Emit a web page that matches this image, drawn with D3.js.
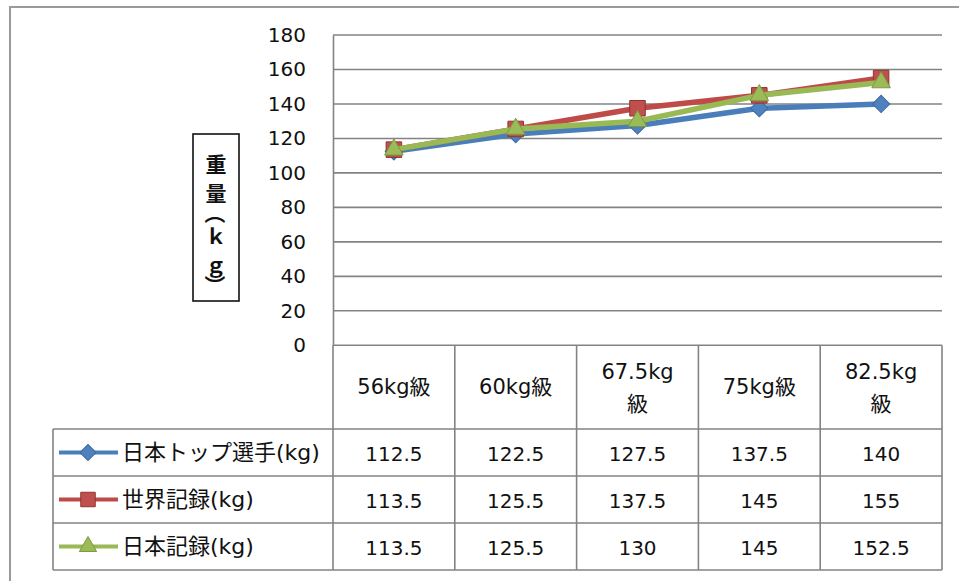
<!DOCTYPE html>
<html><head><meta charset="utf-8">
<script src="https://cdn.jsdelivr.net/npm/d3@7"></script>
<style>
  body { margin: 0; background: #fff; }
  svg { display: block; }
  .jp { font-family: "DejaVu Sans", "Noto Sans CJK JP", sans-serif; fill: #111; }
</style>
</head><body>
<svg id="chart" width="959" height="581"></svg>
<script>
// Weight classes (x categories)
const categories = ["56kg級", "60kg級", "67.5kg級", "75kg級", "82.5kg級"];
// Series names shown in the data table legend
const seriesNames = ["日本トップ選手(kg)", "世界記録(kg)", "日本記録(kg)"];
// Lifted weight per class, kg
const japanTop = [112.5, 122.5, 127.5, 137.5, 140];
const worldRecord = [113.5, 125.5, 137.5, 145, 155];
const japanRecord = [113.5, 125.5, 130, 145, 152.5];
// Value axis ticks
const yTicks = [0, 20, 40, 60, 80, 100, 120, 140, 160, 180];
const axisTitle = "重量（ｋｇ）";

const seriesValues = [japanTop, worldRecord, japanRecord];
const seriesStyle = [
  { line: "#4A7EBB", fill: "#4F81BD", stroke: "#3A6BA5", marker: "diamond" },
  { line: "#BE4B48", fill: "#C0504D", stroke: "#8E3532", marker: "square" },
  { line: "#98B954", fill: "#9BBB59", stroke: "#7C9B3E", marker: "triangle" }
];

const svg = d3.select("#chart");
const W = 959, H = 581;

// Layout
const plot = { left: 333, right: 942, top: 35, bottom: 345.3 };
const table = { legendLeft: 53, headerBottom: 429, rowH: 47 };
const gridColor = "#838383";

// Outer chart border (runs off the right and bottom edges)
svg.append("rect")
  .attr("x", 10).attr("y", 7).attr("width", W).attr("height", H)
  .attr("fill", "none").attr("stroke", "#9a9a9a").attr("stroke-width", 2);

const x = d3.scaleBand().domain(categories).range([plot.left, plot.right]);
const y = d3.scaleLinear().domain([0, 180]).range([plot.bottom, plot.top]);

// Horizontal gridlines
svg.append("g").selectAll("line").data(yTicks).join("line")
  .attr("x1", plot.left).attr("x2", plot.right)
  .attr("y1", d => y(d)).attr("y2", d => y(d))
  .attr("stroke", gridColor).attr("stroke-width", 1.6);

// Value axis via d3.axisLeft, restyled
const yAxis = svg.append("g")
  .attr("transform", `translate(${plot.left},0)`)
  .call(d3.axisLeft(y).tickValues(yTicks).tickSize(0).tickPadding(27));
yAxis.select(".domain").attr("stroke", gridColor).attr("stroke-width", 1.6);
yAxis.selectAll("text")
  .attr("font-family", "DejaVu Sans, sans-serif")
  .attr("font-size", 20).attr("fill", "#111");

// Axis title in a box, set vertically one character at a time;
// brackets are turned a quarter so they read as vertical brackets
svg.append("rect")
  .attr("x", 193).attr("y", 134).attr("width", 46).attr("height", 167)
  .attr("fill", "#fff").attr("stroke", "#111").attr("stroke-width", 1.6);
const titleChars = Array.from(axisTitle);
const isBracket = ch => ch === "（" || ch === "）";
const halfAdv = ch => isBracket(ch) ? 7 : 14.5;
let cy = 163;
const titleG = svg.append("g")
  .attr("font-family", "Noto Sans CJK JP, sans-serif")
  .attr("font-size", 21).attr("font-weight", "bold").attr("fill", "#111");
titleChars.forEach((ch, i) => {
  if (i > 0) cy += halfAdv(titleChars[i - 1]) + halfAdv(ch);
  const t = titleG.append("text")
    .attr("x", 216).attr("y", cy)
    .attr("text-anchor", "middle").attr("dominant-baseline", "central")
    .text(ch);
  if (isBracket(ch)) t.attr("transform", `rotate(90,216,${cy})`);
});

// Data table grid
const tableBottom = table.headerBottom + table.rowH * seriesNames.length;
const tg = svg.append("g").attr("stroke", gridColor).attr("stroke-width", 1.6);
// column separators (the plot's left edge continues down)
x.domain().forEach(c => {
  tg.append("line").attr("x1", x(c)).attr("x2", x(c))
    .attr("y1", plot.bottom).attr("y2", tableBottom);
});
tg.append("line").attr("x1", plot.right).attr("x2", plot.right)
  .attr("y1", plot.bottom).attr("y2", tableBottom);
tg.append("line").attr("x1", table.legendLeft).attr("x2", table.legendLeft)
  .attr("y1", table.headerBottom).attr("y2", tableBottom);
// row separators
d3.range(seriesNames.length + 1).forEach(r => {
  const yy = table.headerBottom + r * table.rowH;
  tg.append("line").attr("x1", table.legendLeft).attr("x2", plot.right)
    .attr("y1", yy).attr("y2", yy);
});

// Header: category labels, wrapping before "級" when too wide
const headerMid = (plot.bottom + table.headerBottom) / 2;
categories.forEach(c => {
  const cx = x(c) + x.bandwidth() / 2;
  const t = svg.append("text").attr("class", "jp")
    .attr("x", cx).attr("y", headerMid)
    .attr("text-anchor", "middle").attr("dominant-baseline", "central")
    .attr("font-size", 21).text(c);
  if (t.node().getComputedTextLength() > x.bandwidth() - 30) {
    t.text(null).attr("dominant-baseline", null);
    const parts = [c.slice(0, -1), c.slice(-1)];
    parts.forEach((p, k) => {
      t.append("tspan").attr("x", cx)
        .attr("y", headerMid + (k === 0 ? -8 : 24))
        .text(p);
    });
  }
});

// Marker shapes
function markerPath(type, big) {
  const s = big ? 1.15 : 1;
  if (type === "diamond") return d3.symbol(d3.symbolSquare, 130 * s)();
  if (type === "square") return d3.symbol(d3.symbolSquare, 210 * s)();
  return d3.symbol(d3.symbolTriangle, 130 * s)();
}
function markerRotate(type) { return type === "diamond" ? " rotate(45)" : ""; }

// Table rows: legend key + values
seriesNames.forEach((name, i) => {
  const st = seriesStyle[i];
  const rowMid = table.headerBottom + i * table.rowH + table.rowH / 2;
  svg.append("line")
    .attr("x1", 59).attr("x2", 118).attr("y1", rowMid).attr("y2", rowMid)
    .attr("stroke", st.line).attr("stroke-width", 4);
  svg.append("path")
    .attr("d", markerPath(st.marker, false))
    .attr("transform", `translate(88,${rowMid})${markerRotate(st.marker)}`)
    .attr("fill", st.fill).attr("stroke", st.stroke).attr("stroke-width", 1);
  svg.append("text").attr("class", "jp")
    .attr("x", 122).attr("y", rowMid)
    .attr("dominant-baseline", "central")
    .attr("font-size", 22).text(name);
  seriesValues[i].forEach((v, j) => {
    svg.append("text").attr("class", "jp")
      .attr("x", x(categories[j]) + x.bandwidth() / 2).attr("y", rowMid + 1)
      .attr("text-anchor", "middle").attr("dominant-baseline", "central")
      .attr("font-size", 20).text(v);
  });
});

// Series lines and markers
const line = d3.line()
  .x((d, j) => x(categories[j]) + x.bandwidth() / 2)
  .y(d => y(d));
seriesValues.forEach((vals, i) => {
  const st = seriesStyle[i];
  const g = svg.append("g");
  g.append("path").datum(vals)
    .attr("d", line).attr("fill", "none")
    .attr("stroke", st.line).attr("stroke-width", 5.5)
    .attr("stroke-linejoin", "round");
  g.selectAll("path.m").data(vals).join("path").attr("class", "m")
    .attr("d", markerPath(st.marker, true))
    .attr("transform", (d, j) =>
      `translate(${x(categories[j]) + x.bandwidth() / 2},${y(d)})${markerRotate(st.marker)}`)
    .attr("fill", st.fill).attr("stroke", st.stroke).attr("stroke-width", 1);
});
</script>
</body></html>
